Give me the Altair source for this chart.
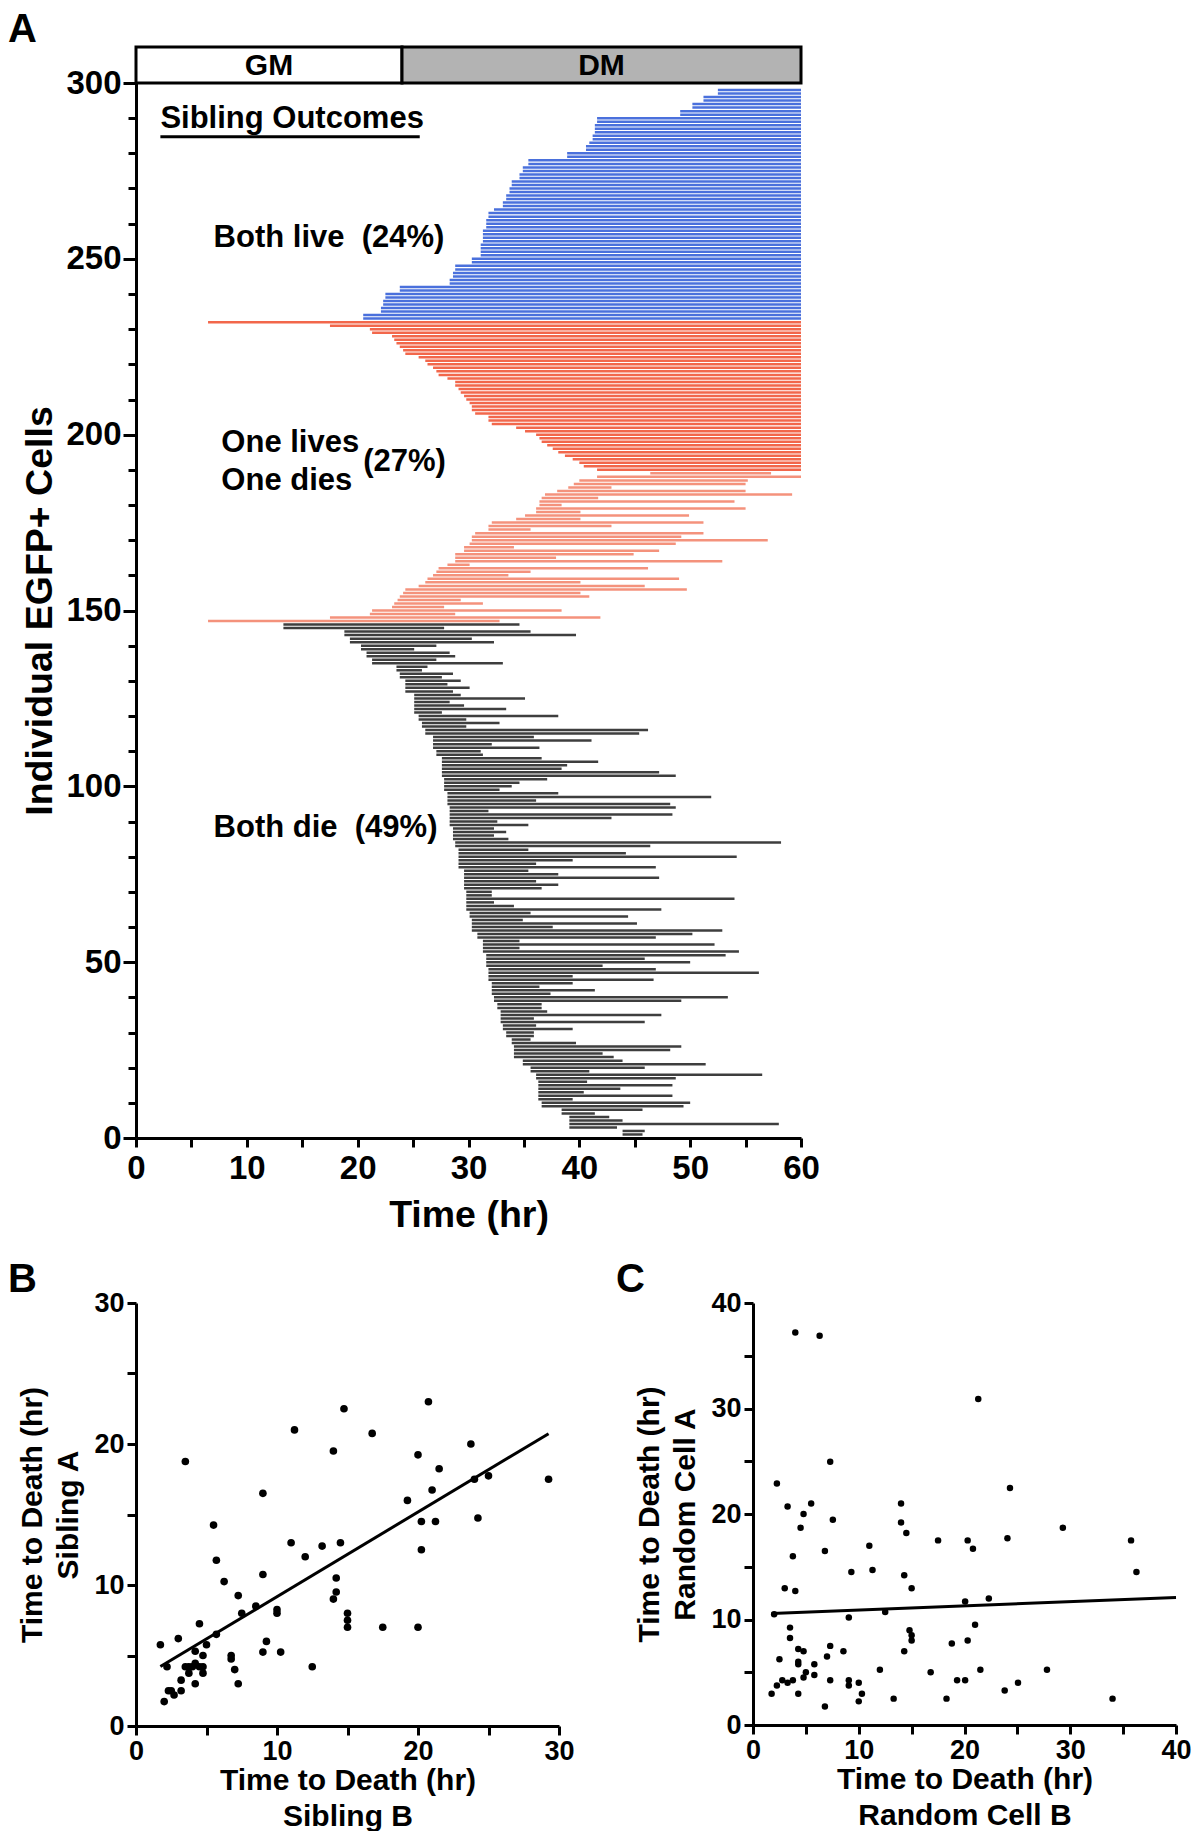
import altair as alt
import pandas as pd

FONT = "Liberation Sans, Arial, Helvetica, sans-serif"
OBS_END = 60.0

# ---------------- Panel A data (rows listed from top to bottom) ----------------
# Both live: start time of each lineage (tracked until end of movie)
blue_start = [52.5, 52.5, 51.2, 51.2, 50.2, 50.2, 49.1, 49.1, 41.6, 41.6,
              41.4, 41.4, 41.4, 41.2, 41.2, 40.9, 40.6, 40.6, 38.9, 38.9,
              35.4, 35.4, 34.9, 34.9, 34.6, 34.6, 33.9, 33.9, 33.7, 33.7,
              33.4, 33.4, 33.1, 33.1, 32.3, 31.8, 31.8, 31.6, 31.6, 31.6,
              31.3, 31.3, 31.3, 31.3, 31.1, 31.1, 31.1, 31.1, 30.3, 30.3,
              28.8, 28.8, 28.6, 28.6, 28.3, 28.3, 23.8, 23.8, 22.5, 22.5,
              22.3, 22.3, 22.1, 22.1, 20.5, 20.5]
# One lives / one dies: the surviving sibling
red_live_start = [6.5, 17.5, 21.1, 21.3, 23.1, 23.3, 23.5, 23.8, 24.1, 24.3,
                  25.5, 26.1, 26.3, 26.8, 27.1, 27.3, 28.1, 28.8, 28.8, 29.1,
                  29.3, 29.6, 29.8, 30.1, 30.3, 30.3, 30.6, 31.8, 31.8, 32.1,
                  34.3, 35.1, 36.1, 36.4, 36.6, 37.1, 37.6, 38.1, 38.7, 39.4,
                  40.0, 40.4, 41.6]
# One lives / one dies: the dying sibling
red_die_start = [46.4, 41.6, 40.0, 39.5, 39.0, 38.0, 36.9, 36.6, 36.4, 36.4,
                 36.1, 36.1, 35.1, 34.3, 32.1, 31.8, 31.8, 30.6, 30.3, 30.3,
                 30.1, 29.6, 29.6, 28.8, 28.8, 28.8, 28.1, 27.3, 27.1, 26.8,
                 26.3, 26.1, 25.5, 24.3, 24.1, 23.8, 23.6, 23.3, 23.1, 21.3,
                 21.1, 17.5, 6.5]
red_die_end = [57.3, 60.0, 55.2, 55.0, 42.9, 55.0, 59.2, 41.7, 54.0, 38.4,
               55.0, 40.1, 49.9, 40.1, 51.2, 42.9, 35.6, 51.2, 49.2, 57.0,
               48.7, 34.1, 47.2, 44.9, 37.9, 52.9, 30.1, 46.2, 35.6, 33.6,
               49.0, 40.1, 45.9, 49.7, 40.1, 40.9, 29.3, 31.3, 27.8, 38.4,
               28.8, 41.9, 32.8]
# Both die
black_start = [13.3, 13.3, 18.8, 18.8, 19.3, 19.3, 20.3, 20.3, 20.8, 20.8,
               21.3, 21.3, 23.5, 23.5, 23.8, 23.8, 24.3, 24.3, 24.3, 24.3,
               25.1, 25.1, 25.1, 25.1, 25.1, 25.1, 25.5, 25.5, 25.8, 25.8,
               26.1, 26.1, 26.8, 26.8, 26.8, 26.8, 27.1, 27.1, 27.6, 27.6,
               27.6, 27.6, 27.6, 27.6, 27.8, 27.8, 27.8, 27.8, 28.1, 28.1,
               28.1, 28.1, 28.3, 28.3, 28.3, 28.3, 28.3, 28.3, 28.6, 28.6,
               28.6, 28.6, 28.8, 28.8, 29.1, 29.1, 29.1, 29.1, 29.1, 29.1,
               29.6, 29.6, 29.6, 29.6, 29.6, 29.6, 29.8, 29.8, 29.8, 29.8,
               29.8, 29.8, 30.1, 30.1, 30.3, 30.3, 30.3, 30.3, 30.8, 30.8,
               31.3, 31.3, 31.3, 31.3, 31.6, 31.6, 31.6, 31.6, 31.8, 31.8,
               31.8, 31.8, 32.1, 32.1, 32.1, 32.1, 32.3, 32.3, 32.6, 32.6,
               32.9, 32.9, 32.9, 32.9, 33.1, 33.1, 33.4, 33.4, 33.9, 33.9,
               34.1, 34.1, 34.1, 34.1, 34.9, 34.9, 35.6, 35.6, 36.1, 36.1,
               36.3, 36.3, 36.3, 36.3, 36.3, 36.3, 36.6, 36.6, 38.4, 38.4,
               39.1, 39.1, 39.1, 39.1, 43.9, 43.9]
black_end = [34.6, 27.8, 35.6, 39.7, 30.3, 32.3, 27.1, 25.1, 28.3, 28.8,
             27.1, 33.1, 26.3, 25.8, 28.6, 27.6, 29.3, 28.1, 30.1, 28.6,
             29.3, 35.1, 28.3, 29.6, 33.4, 27.6, 38.1, 29.8, 32.8, 29.8,
             46.2, 45.4, 35.9, 41.1, 32.1, 36.4, 31.1, 31.3, 36.6, 41.7,
             38.9, 38.4, 47.2, 48.7, 37.1, 34.6, 33.9, 32.8, 38.1, 51.9,
             36.1, 48.2, 48.7, 31.8, 48.4, 42.9, 32.6, 35.4, 32.3, 33.4,
             32.3, 33.6, 58.2, 46.4, 35.4, 44.2, 54.2, 39.4, 36.1, 46.9,
             35.4, 38.1, 47.2, 36.1, 38.1, 36.6, 32.1, 32.1, 54.0, 32.3,
             34.1, 47.4, 35.6, 44.4, 34.9, 45.2, 37.6, 52.9, 50.2, 46.9,
             34.6, 52.2, 34.6, 54.4, 53.2, 45.9, 50.0, 42.1, 46.9, 56.2,
             39.4, 46.7, 39.4, 36.4, 41.4, 37.4, 53.4, 49.2, 36.6, 36.6,
             37.1, 47.4, 35.9, 45.9, 36.1, 39.4, 35.9, 35.9, 35.6, 39.7,
             49.2, 48.2, 42.1, 43.1, 43.9, 51.4, 45.9, 40.9, 56.5, 48.7,
             40.7, 48.4, 43.7, 40.4, 48.4, 39.4, 50.0, 49.4, 45.7, 41.4,
             42.7, 43.9, 58.0, 43.4, 45.9, 45.7]

TOP_CELL = 298
groups = (
    [("live", s, OBS_END) for s in blue_start]
    + [("onelive", s, OBS_END) for s in red_live_start]
    + [("onedie", s, e) for s, e in zip(red_die_start, red_die_end)]
    + [("die", s, e) for s, e in zip(black_start, black_end)]
)
lines_df = pd.DataFrame(
    [{"cell": TOP_CELL - i, "group": g, "start": s, "end": e} for i, (g, s, e) in enumerate(groups)]
)

phase_name = ["GM", "DM"]
phase_start = [0, 24]
phase_end = [24, 60]
phase_df = pd.DataFrame({"phase": phase_name, "start": phase_start, "end": phase_end})

ann_text = ["Sibling Outcomes", "Both live\u00a0\u00a0(24%)", "One lives", "One dies",
            "(27%)", "Both die\u00a0\u00a0(49%)"]
ann_x = [2.2, 7.0, 7.7, 7.7, 20.5, 7.0]
ann_y = [289.7, 255.9, 197.5, 186.8, 192.1, 88.2]
ann_df = pd.DataFrame({"text": ann_text, "start": ann_x, "cell": ann_y})
underline_df = pd.DataFrame({"start": [2.2], "end": [25.6], "cell": [284.7]})

# ---------------- Panel B data ----------------
sib_b = [1.73, 2.0, 2.2, 2.3, 2.5, 2.7, 3.0, 3.2, 3.2, 3.5, 3.5, 3.75, 3.75, 4.0,
         4.2, 4.2, 4.2, 4.5, 4.5, 4.75, 4.75, 4.75, 5.0, 5.5, 5.7, 5.7, 6.25, 6.75,
         6.75, 7.0, 7.25, 7.25, 7.5, 8.5, 9.0, 9.0, 9.0, 9.25, 10.0, 10.0, 10.26,
         11.0, 11.24, 12.0, 12.5, 13.2, 14.0, 14.0, 14.2, 14.2, 14.5, 14.75, 15.0,
         15.0, 15.0, 16.75, 17.5, 19.25, 20.0, 20.0, 20.24, 20.24, 20.74, 21.0,
         21.24, 21.5, 23.75, 24.0, 24.25, 25.0, 29.26]
sib_a = [5.76, 1.73, 4.2, 2.5, 2.5, 2.2, 6.2, 3.25, 2.5, 18.76, 4.2, 4.2, 3.75, 4.2,
         5.3, 4.45, 3.0, 7.25, 4.2, 5.0, 4.2, 3.75, 5.76, 14.25, 11.76, 6.5, 10.24,
         5.0, 4.75, 4.0, 9.25, 3.0, 8.0, 8.5, 16.5, 10.74, 5.24, 6.0, 8.25, 8.0,
         5.24, 13.0, 21.0, 12.0, 4.2, 12.76, 9.0, 19.5, 9.5, 10.5, 13.0, 22.5, 8.0,
         7.5, 7.0, 20.75, 7.0, 16.0, 19.23, 7.0, 14.5, 12.5, 23.0, 16.74, 14.5,
         18.24, 20.0, 17.5, 14.75, 17.74, 17.5]

# ---------------- Panel C data ----------------
rand_b = [1.76, 2.0, 2.26, 2.26, 2.5, 2.77, 3.0, 3.27, 3.27, 3.5, 3.5, 3.77, 3.77,
          4.0, 4.0, 4.28, 4.28, 4.28, 4.28, 4.5, 4.78, 4.78, 4.78, 5.0, 5.5, 5.8,
          5.8, 6.3, 6.8, 6.8, 7.0, 7.3, 7.3, 7.3, 7.55, 8.55, 9.06, 9.06, 9.06, 9.3,
          10.0, 10.0, 10.3, 11.0, 11.3, 12.0, 12.5, 13.3, 14.0, 14.0, 14.3, 14.3,
          14.5, 14.8, 15.0, 15.0, 15.0, 16.8, 17.5, 18.3, 18.8, 19.3, 20.06, 20.06,
          20.3, 20.3, 20.8, 21.0, 21.3, 21.5, 22.3, 23.8, 24.06, 24.3, 25.06, 27.8,
          29.3, 34.0, 35.75, 36.26]
rand_a = [2.97, 10.5, 22.9, 3.74, 6.23, 4.25, 12.97, 20.7, 4.0, 9.23, 8.24, 16.0,
          4.25, 37.2, 12.7, 7.2, 6.0, 5.75, 2.97, 18.7, 20.0, 7.0, 4.5, 5.0, 21.0,
          5.75, 4.73, 36.9, 16.5, 1.76, 6.5, 24.95, 7.5, 4.25, 19.46, 7.0, 10.2, 4.25,
          3.74, 14.5, 4.0, 2.24, 2.97, 17.0, 14.7, 5.24, 10.7, 2.5, 21.0, 19.2, 14.2,
          7.0, 18.2, 8.98, 12.97, 8.5, 8.0, 5.0, 17.5, 2.5, 7.73, 4.25, 11.7, 4.25,
          17.5, 8.0, 16.7, 9.5, 30.9, 5.24, 12.0, 3.26, 17.7, 22.46, 4.0, 5.24, 18.7,
          2.5, 17.5, 14.5]
C_XMAX = 40

# ---------------- Panel A ----------------
xA = alt.Scale(domain=[0, 60], nice=False, zero=False)
yA = alt.Scale(domain=[0, 300], nice=False, zero=False)
axA_x = alt.Axis(values=list(range(0, 61, 5)),
                 labelExpr="datum.value % 10 === 0 ? datum.label : ''",
                 tickSize=9, labelFontSize=33, titleFontSize=37.5, labelPadding=5,
                 titlePadding=11, title="Time (hr)")
axA_y = alt.Axis(values=list(range(0, 301, 10)),
                 labelExpr="datum.value % 50 === 0 ? datum.label : ''",
                 tickSize={"condition": {"test": "datum.value % 50 === 0", "value": 13}, "value": 8},
                 labelFontSize=33, titleFontSize=37.5, labelPadding=2, titlePadding=6,
                 title="Individual EGFP+ Cells")

lines = alt.Chart(lines_df).mark_rule().encode(
    x=alt.X("start:Q", scale=xA, axis=axA_x),
    x2="end:Q",
    y=alt.Y("cell:Q", scale=yA, axis=axA_y),
    color=alt.Color("group:N", scale=alt.Scale(
        domain=["live", "onelive", "onedie", "die"],
        range=["#4A70DC", "#F2674B", "#F4927C", "#3E3E3E"]), legend=None),
    strokeWidth=alt.StrokeWidth("group:N", scale=alt.Scale(
        domain=["live", "onelive", "onedie", "die"], range=[2.5, 2.5, 2.1, 2.4]), legend=None),
)

hdr_rect = alt.Chart(phase_df).mark_rect(stroke="black", strokeWidth=3).encode(
    x=alt.X("start:Q", scale=xA, axis=axA_x),
    x2="end:Q",
    y=alt.value(-36), y2=alt.value(0),
    fill=alt.Fill("phase:N", scale=alt.Scale(domain=["GM", "DM"], range=["white", "#B3B3B3"]), legend=None),
)
hdr_text = alt.Chart(phase_df).transform_calculate(
    start="(datum.start + datum.end) / 2"
).mark_text(font=FONT, fontSize=30, fontWeight="bold", color="black", baseline="middle").encode(
    x=alt.X("start:Q", scale=xA, axis=axA_x), y=alt.value(-17), text="phase:N")

ann = alt.Chart(ann_df).mark_text(font=FONT, fontSize=31, fontWeight="bold", color="black",
                                  align="left", baseline="middle").encode(
    x=alt.X("start:Q", scale=xA, axis=axA_x), y=alt.Y("cell:Q", scale=yA, axis=axA_y), text="text:N")
uline = alt.Chart(underline_df).mark_rule(strokeWidth=3, color="black").encode(
    x=alt.X("start:Q", scale=xA, axis=axA_x), x2="end:Q",
    y=alt.Y("cell:Q", scale=yA, axis=axA_y))

panelA = alt.layer(lines, hdr_rect, hdr_text, ann, uline).properties(
    width=665, height=1055,
    title=alt.TitleParams("A", anchor="start", frame="group", dx=-128, dy=10, offset=6,
                          fontSize=40, fontWeight="bold", font=FONT, baseline="top"))

# ---------------- Panel B ----------------
b_df = pd.DataFrame({"b": sib_b, "a": sib_a})
xB = alt.Scale(domain=[0, 30], nice=False)
yB = alt.Scale(domain=[0, 30], nice=False)
axis_common = dict(labelFontSize=27, titleFontSize=30, tickSize=9, labelPadding=3,
                   titleLineHeight=36)
axB_x = alt.Axis(values=list(range(0, 31, 5)),
                 labelExpr="datum.value % 10 === 0 ? datum.label : ''",
                 title=["Time to Death (hr)", "Sibling B"], titlePadding=1, **axis_common)
axB_y = alt.Axis(values=list(range(0, 31, 5)),
                 labelExpr="datum.value % 10 === 0 ? datum.label : ''",
                 title=["Time to Death (hr)", "Sibling A"], titlePadding=10, **axis_common)
b_pts = alt.Chart(b_df).mark_circle(size=58, color="black", opacity=1).encode(
    x=alt.X("b:Q", scale=xB, axis=axB_x), y=alt.Y("a:Q", scale=yB, axis=axB_y))
b_fit = alt.Chart(b_df).transform_regression("b", "a").mark_line(color="black", strokeWidth=3).encode(
    x=alt.X("b:Q", scale=xB, axis=axB_x), y=alt.Y("a:Q", scale=yB, axis=axB_y))
panelB = alt.layer(b_pts, b_fit).properties(
    width=423, height=423,
    title=alt.TitleParams("B", anchor="start", frame="group", dx=-128, dy=15, offset=4,
                          fontSize=40, fontWeight="bold", font=FONT, baseline="top"))

# ---------------- Panel C ----------------
c_df = pd.DataFrame({"b": rand_b, "a": rand_a})
xC = alt.Scale(domain=[0, 40], nice=False)
yC = alt.Scale(domain=[0, 40], nice=False)
axC_x = alt.Axis(values=list(range(0, 41, 5)),
                 labelExpr="datum.value % 10 === 0 ? datum.label : ''",
                 title=["Time to Death (hr)", "Random Cell B"], titlePadding=1, **axis_common)
axC_y = alt.Axis(values=list(range(0, 41, 5)),
                 labelExpr="datum.value % 10 === 0 ? datum.label : ''",
                 title=["Time to Death (hr)", "Random Cell A"], titlePadding=10, **axis_common)
c_pts = alt.Chart(c_df).mark_circle(size=42, color="black", opacity=1).encode(
    x=alt.X("b:Q", scale=xC, axis=axC_x), y=alt.Y("a:Q", scale=yC, axis=axC_y))
c_fit = alt.Chart(c_df).transform_regression("b", "a", extent=[min(rand_b), C_XMAX]).mark_line(
    color="black", strokeWidth=3).encode(
    x=alt.X("b:Q", scale=xC, axis=axC_x), y=alt.Y("a:Q", scale=yC, axis=axC_y))
panelC = alt.layer(c_pts, c_fit).properties(
    width=423, height=422,
    title=alt.TitleParams("C", anchor="start", frame="group", dx=-137, dy=15, offset=4,
                          fontSize=40, fontWeight="bold", font=FONT, baseline="top"))

chart = alt.vconcat(
    panelA,
    alt.hconcat(panelB, panelC, spacing=41),
    spacing=26,
).properties(padding={"left": 0, "top": 1, "right": 0, "bottom": 0}).configure_view(
    stroke=None
).configure_axis(
    domainColor="black", domainWidth=3, tickColor="black", tickWidth=3,
    labelColor="black", titleColor="black", labelFont=FONT, titleFont=FONT,
    labelFontWeight="bold", titleFontWeight="bold", grid=False,
    labelFlush=False, labelOverlap=False,
).configure_title(color="black")

chart.save("out.html", embed_options={"renderer": "svg", "actions": False})
